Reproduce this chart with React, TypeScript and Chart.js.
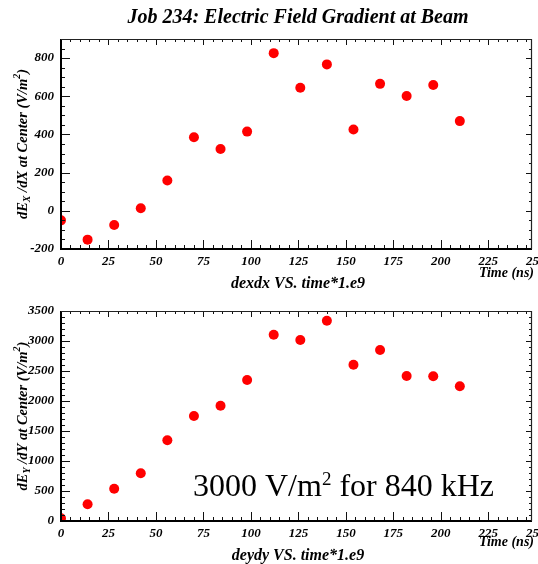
import React, { useEffect, useRef } from "react";
import { Chart, registerables } from "chart.js";

Chart.register(...registerables);

// ---------- data ----------
const TIME_NS = [0, 14, 28, 42, 56, 70, 84, 98, 112, 126, 140, 154, 168, 182, 196, 210];
const DEXDX = [-50, -151, -74, 13, 159, 385, 324, 415, 826, 645, 767, 426, 665, 601, 659, 470];
const DEYDY = [45, 278, 538, 795, 1345, 1750, 1922, 2350, 3105, 3017, 3338, 2605, 2850, 2417, 2412, 2245];

const X_TICKS = [0, 25, 50, 75, 100, 125, 150, 175, 200, 225, 250];
const DEXDX_Y_TICKS = [-200, 0, 200, 400, 600, 800];
const DEYDY_Y_TICKS = [0, 500, 1000, 1500, 2000, 2500, 3000, 3500];

const TITLE = "Job 234: Electric Field Gradient at Beam";
const X_TITLE = "Time (ns)";
const TOP_CAPTION = "dexdx VS. time*1.e9";
const BOTTOM_CAPTION = "deydy VS. time*1.e9";
const TOP_Y_TITLE = [
  { t: "dE" },
  { t: "X", sub: true },
  { t: " /dX at Center (V/m" },
  { t: "2", sup: true },
  { t: ")" },
];
const BOTTOM_Y_TITLE = [
  { t: "dE" },
  { t: "Y", sub: true },
  { t: " /dY at Center (V/m" },
  { t: "2", sup: true },
  { t: ")" },
];
const NOTE = [{ t: "3000 V/m" }, { t: "2", sup: true }, { t: " for 840 kHz" }];

// ---------- style ----------
const SERIF = '"Liberation Serif", "Times New Roman", serif';
const W = 538;

type Seg = { t: string; sub?: boolean; sup?: boolean };

function fontStr(size: number, bold: boolean) {
  return `${bold ? "italic bold " : ""}${size}px ${SERIF}`;
}

function drawSegs(
  ctx: CanvasRenderingContext2D,
  segs: Seg[],
  x: number,
  y: number,
  size: number,
  bold: boolean,
  align: "left" | "center" | "right",
  smallRatio = 0.68,
  supRaise = 0.38
) {
  const small = Math.round(size * smallRatio);
  let total = 0;
  const widths = segs.map((s) => {
    ctx.font = fontStr(s.sub || s.sup ? small : size, bold);
    const w = ctx.measureText(s.t).width;
    total += w;
    return w;
  });
  let cx = align === "left" ? x : align === "center" ? x - total / 2 : x - total;
  ctx.textAlign = "left";
  segs.forEach((s, i) => {
    ctx.font = fontStr(s.sub || s.sup ? small : size, bold);
    const dy = s.sub ? size * 0.28 : s.sup ? -size * supRaise : 0;
    ctx.fillText(s.t, cx, y + dy);
    cx += widths[i];
  });
}

const framePlugin = {
  id: "frame",
  afterDatasetsDraw(chart: any, _args: any, opts: any) {
    const { ctx, chartArea: a, scales } = chart;
    const xs = scales.x;
    const ys = scales.y;
    ctx.save();
    ctx.strokeStyle = "#111";
    ctx.lineWidth = 1;
    ctx.beginPath();
    const nx = Math.round((xs.max - xs.min) / opts.xMinor);
    for (let i = 0; i <= nx; i++) {
      const v = xs.min + i * opts.xMinor;
      if (v > xs.max) break;
      const major = Math.abs(v / opts.xMajor - Math.round(v / opts.xMajor)) < 1e-6;
      const px = Math.round(xs.getPixelForValue(v)) + 0.5;
      ctx.moveTo(px, a.bottom);
      ctx.lineTo(px, a.bottom - (major ? 9 : 4));
      ctx.moveTo(px, a.top);
      ctx.lineTo(px, a.top + (major ? 6 : 3));
    }
    const ny = Math.round((ys.max - ys.min) / opts.yMinor);
    for (let i = 0; i <= ny; i++) {
      const v = ys.min + i * opts.yMinor;
      const major = Math.abs(v / opts.yMajor - Math.round(v / opts.yMajor)) < 1e-6;
      const py = Math.round(ys.getPixelForValue(v)) + 0.5;
      ctx.moveTo(a.left, py);
      ctx.lineTo(a.left + (major ? 9 : 4), py);
      ctx.moveTo(a.right, py);
      ctx.lineTo(a.right - (major ? 6 : 3), py);
    }
    ctx.stroke();
    ctx.strokeStyle = "#000";
    ctx.lineWidth = 2;
    ctx.beginPath();
    ctx.moveTo(a.left, a.top);
    ctx.lineTo(a.left, a.bottom);
    ctx.lineTo(a.right, a.bottom);
    ctx.stroke();
    ctx.lineWidth = 1.2;
    ctx.strokeStyle = "#222";
    ctx.beginPath();
    ctx.moveTo(a.left, a.top + 0.5);
    ctx.lineTo(a.right - 0.5, a.top + 0.5);
    ctx.lineTo(a.right - 0.5, a.bottom);
    ctx.stroke();
    ctx.restore();
  },
};

const textPlugin = {
  id: "texts",
  afterDraw(chart: any, _args: any, o: any) {
    const ctx: CanvasRenderingContext2D = chart.ctx;
    ctx.save();
    ctx.fillStyle = "#000";
    if (o.title) {
      ctx.textBaseline = "alphabetic";
      ctx.font = fontStr(20, true);
      ctx.textAlign = "center";
      ctx.fillText(o.title, 298, o.titleY);
    }
    ctx.save();
    ctx.translate(o.yTitleX, o.yTitleY);
    ctx.rotate(-Math.PI / 2);
    ctx.textBaseline = "middle";
    drawSegs(ctx, o.yTitle, 0, 0, 14.5, true, "center");
    ctx.restore();
    ctx.textBaseline = "middle";
    ctx.font = fontStr(14, true);
    ctx.textAlign = "right";
    ctx.fillText(X_TITLE, 534, o.xTitleY);
    ctx.font = fontStr(16, true);
    ctx.textAlign = "center";
    ctx.fillText(o.caption, 298, o.captionY);
    if (o.note) {
      ctx.textBaseline = "alphabetic";
      drawSegs(ctx, o.note, o.noteX, o.noteY, 32, false, "left", 0.6, 0.34);
    }
    ctx.restore();
  },
};

type PanelProps = {
  height: number;
  area: { left: number; right: number; top: number; bottom: number };
  yMin: number;
  yMax: number;
  yTicks: number[];
  yMajor: number;
  yMinor: number;
  values: number[];
  texts: any;
};

function Panel(p: PanelProps) {
  const ref = useRef<HTMLCanvasElement | null>(null);
  useEffect(() => {
    if (!ref.current) return;
    const tickFont = { family: SERIF, size: 13, style: "italic" as const, weight: "bold" as const };
    const chart = new Chart(ref.current, {
      type: "scatter",
      data: {
        datasets: [
          {
            data: TIME_NS.map((x, i) => ({ x, y: p.values[i] })),
            pointRadius: 5,
            pointHoverRadius: 5,
            backgroundColor: "#ff0000",
            borderColor: "#ff0000",
            borderWidth: 0,
            clip: 0,
          } as any,
        ],
      },
      options: {
        responsive: false,
        animation: false,
        events: [],
        layout: {
          padding: { left: 0, right: W - p.area.right, top: p.area.top, bottom: 0 },
        },
        plugins: {
          legend: { display: false },
          tooltip: { enabled: false },
          title: { display: false },
          frame: { xMajor: 25, xMinor: 5, yMajor: p.yMajor, yMinor: p.yMinor },
          texts: p.texts,
        } as any,
        scales: {
          x: {
            type: "linear",
            min: 0,
            max: 248,
            grid: { display: false, drawTicks: false },
            border: { display: false },
            ticks: {
              font: tickFont,
              color: "#000",
              padding: 5,
              maxRotation: 0,
              autoSkip: false,
              callback: (v: any) => String(v),
            },
            afterBuildTicks: (s: any) => {
              s.ticks = X_TICKS.map((v) => ({ value: v }));
            },
            afterFit: (s: any) => {
              s.height = p.height - p.area.bottom;
              s.paddingLeft = 0;
              s.paddingRight = 0;
            },
          },
          y: {
            type: "linear",
            min: p.yMin,
            max: p.yMax,
            grid: { display: false, drawTicks: false },
            border: { display: false },
            ticks: {
              font: tickFont,
              color: "#000",
              padding: 7,
              autoSkip: false,
              callback: (v: any) => String(v),
            },
            afterBuildTicks: (s: any) => {
              s.ticks = p.yTicks.map((v) => ({ value: v }));
            },
            afterFit: (s: any) => {
              s.width = p.area.left;
              s.paddingTop = 0;
              s.paddingBottom = 0;
            },
          },
        },
      },
      plugins: [framePlugin, textPlugin],
    } as any);
    return () => chart.destroy();
  }, []);
  return (
    <canvas
      ref={ref}
      width={W}
      height={p.height}
      style={{ display: "block", width: W, height: p.height }}
    />
  );
}

export default function App() {
  return (
    <div style={{ position: "fixed", left: 0, top: 0, width: W, height: 564, background: "#fff" }}>
      <Panel
        height={292}
        area={{ left: 61, right: 532, top: 39, bottom: 249 }}
        yMin={-200}
        yMax={900}
        yTicks={DEXDX_Y_TICKS}
        yMajor={200}
        yMinor={50}
        values={DEXDX}
        texts={{
          title: TITLE,
          titleY: 23,
          yTitle: TOP_Y_TITLE,
          yTitleX: 23,
          yTitleY: 144,
          xTitleY: 273,
          caption: TOP_CAPTION,
          captionY: 284,
        }}
      />
      <Panel
        height={272}
        area={{ left: 61, right: 532, top: 19, bottom: 229 }}
        yMin={0}
        yMax={3500}
        yTicks={DEYDY_Y_TICKS}
        yMajor={500}
        yMinor={100}
        values={DEYDY}
        texts={{
          yTitle: BOTTOM_Y_TITLE,
          yTitleX: 23,
          yTitleY: 124,
          xTitleY: 250,
          caption: BOTTOM_CAPTION,
          captionY: 264,
          note: NOTE,
          noteX: 193,
          noteY: 204,
        }}
      />
    </div>
  );
}
